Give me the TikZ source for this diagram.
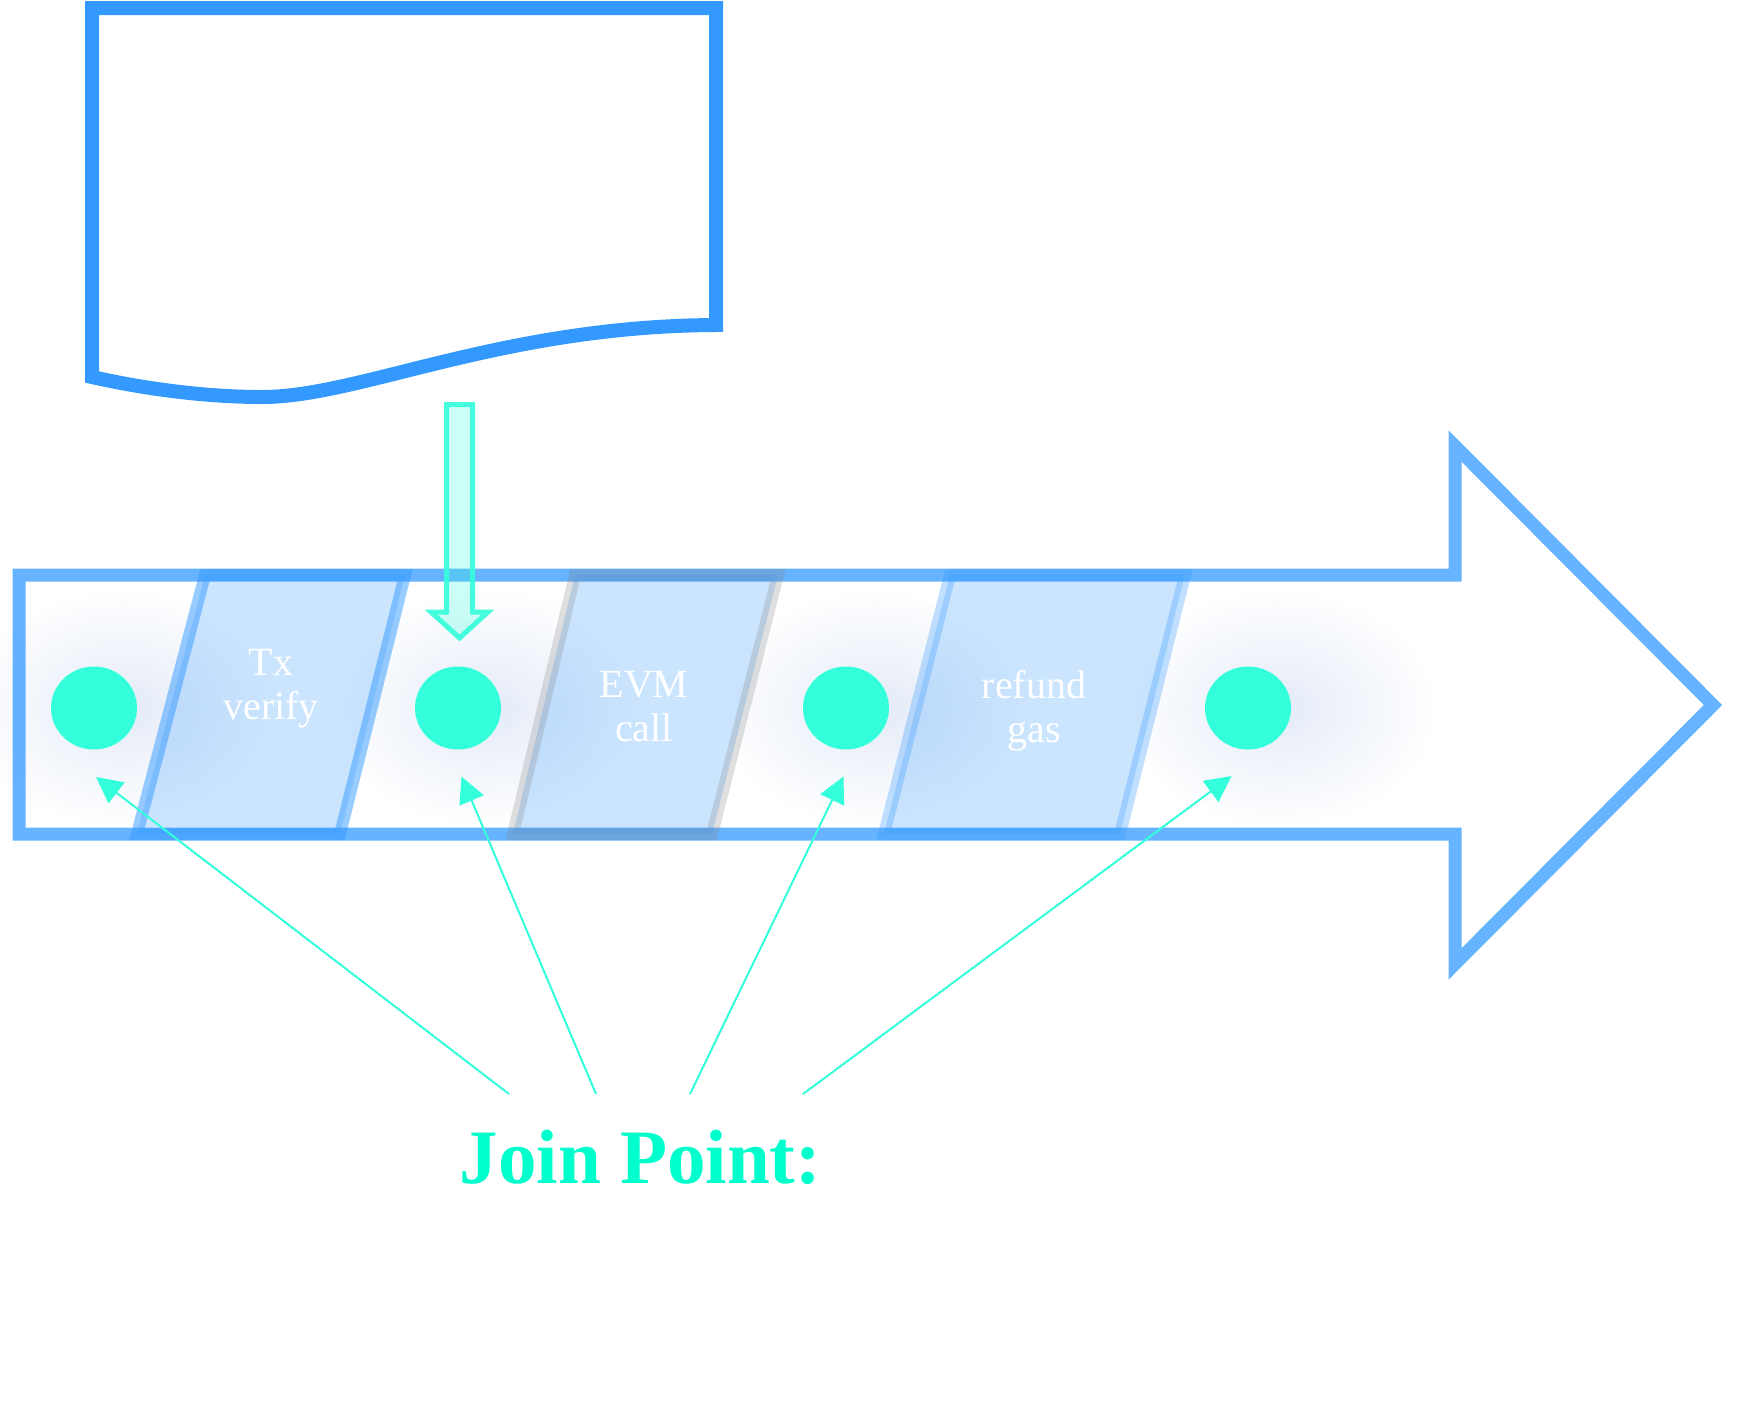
\documentclass[tikz,border=0pt]{standalone}
\usepackage{fontspec}
\setmainfont{Liberation Serif}
\usetikzlibrary{arrows.meta,shapes.geometric,fadings}

\definecolor{docblue}{HTML}{3399FF}
\definecolor{jpcyan}{HTML}{33FFDA}
\definecolor{jptext}{HTML}{00FFCC}
\definecolor{glowc}{RGB}{176,196,232}
\tikzfading[name=glowfade, inner color=transparent!0, outer color=transparent!100]

\begin{document}
\begin{tikzpicture}[x=0.5pt, y=-0.5pt,
  band/.style={draw=docblue, draw opacity=0.75, line width=6.5pt},
  phase/.style={fill=docblue, fill opacity=0.25, line width=6pt},
  joint/.style={ellipse, fill=jpcyan, minimum width=43pt, minimum height=41.5pt, inner sep=0pt},
  lbl/.style={text=white, align=center, font=\fontsize{20}{22}\selectfont},
  pointer/.style={draw=jpcyan, line width=1pt, -{Triangle[length=13pt, width=13pt]}}]

  \useasboundingbox (0,0) rectangle (1750,1425);

  % soft glow round the join points
  \foreach \cx in {94,458,846,1248}
    \fill[glowc, fill opacity=0.35, path fading=glowfade] (\cx+30,708) ellipse (80pt and 60pt);

  % the transaction document
  \draw[docblue, line width=7pt] (716,325) -- (716,8) -- (92,8) -- (92,377)
    .. controls (150,390) and (210,397) .. (262,397)
    .. controls (360,397) and (500,326) .. (716,325) -- cycle;

  % the process arrow
  \draw[band] (19,575) -- (1455,575) -- (1455,446) -- (1713,705) -- (1455,964)
    -- (1455,834) -- (19,834) -- cycle;

  % the three phases
  \draw[phase, draw=docblue, draw opacity=0.5] (205,575) -- (405,575) -- (340,834) -- (137,834) -- cycle;
  \draw[phase, draw=gray, draw opacity=0.25] (575,575) -- (778,575) -- (712,834) -- (513,834) -- cycle;
  \draw[phase, draw=docblue, draw opacity=0.3] (950,575) -- (1185,575) -- (1120,834) -- (884,834) -- cycle;

  \node[lbl] (verify) at (271,689) {Tx\\verify};
  \node[lbl] (evmcall) at (644,706.6) {EVM\\call};
  \node[lbl] (refund) at (1034,710.6) {refund\\gas};

  % join points
  \foreach \cx [count=\i] in {94,458,846,1248}
    \node[joint] (c\i) at (\cx,708) {};

  % the call going in
  \draw[draw=jpcyan, draw opacity=0.9, fill=jpcyan, fill opacity=0.25, line width=2.5pt]
    (446.5,404.5) -- (472.5,404.5) -- (472.5,612) -- (488,612) -- (459.5,638)
    -- (431,612) -- (446.5,612) -- cycle;

  \node[text=jptext, font=\fontsize{38.5}{40}\selectfont\bfseries, anchor=base] (jp) at (640.5,1183) {Join Point:};

  \coordinate (s1) at (509,1094);
  \coordinate (s2) at (596,1094);
  \coordinate (s3) at (690,1094);
  \coordinate (s4) at (803,1094);
  \coordinate (e1) at (96,777);
  \coordinate (e2) at (461.5,776.5);
  \coordinate (e3) at (843.5,776.5);
  \coordinate (e4) at (1231.5,776);
  \foreach \i in {1,...,4}
    \draw[pointer] (s\i) -- (e\i);
\end{tikzpicture}
\end{document}
